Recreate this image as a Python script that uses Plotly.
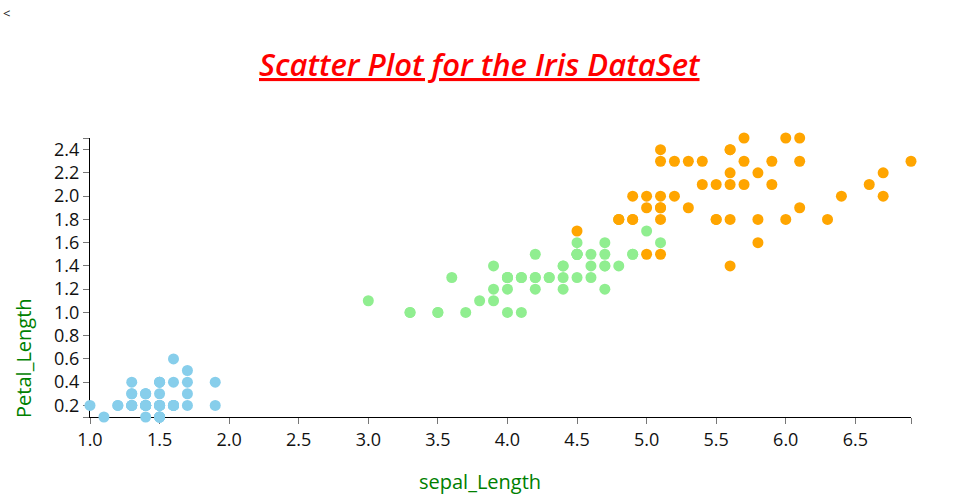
import plotly.graph_objects as go

# Iris petal measurements (x: petal length, y: petal width) per species
setosa_x = [1.4,1.4,1.3,1.5,1.4,1.7,1.4,1.5,1.4,1.5,1.5,1.6,1.4,1.1,1.2,1.5,1.3,1.4,1.7,1.5,
            1.7,1.5,1.0,1.7,1.9,1.6,1.6,1.5,1.4,1.6,1.6,1.5,1.5,1.4,1.5,1.2,1.3,1.5,1.3,1.5,
            1.3,1.3,1.3,1.6,1.9,1.4,1.6,1.4,1.5,1.4]
setosa_y = [0.2,0.2,0.2,0.2,0.2,0.4,0.3,0.2,0.2,0.1,0.2,0.2,0.1,0.1,0.2,0.4,0.4,0.3,0.3,0.3,
            0.2,0.4,0.2,0.5,0.2,0.2,0.4,0.2,0.2,0.2,0.2,0.4,0.1,0.2,0.1,0.2,0.2,0.1,0.2,0.2,
            0.3,0.3,0.2,0.6,0.4,0.3,0.2,0.2,0.2,0.2]
versicolor_x = [4.7,4.5,4.9,4.0,4.6,4.5,4.7,3.3,4.6,3.9,3.5,4.2,4.0,4.7,3.6,4.4,4.5,4.1,4.5,3.9,
                4.8,4.0,4.9,4.7,4.3,4.4,4.8,5.0,4.5,3.5,3.8,3.7,3.9,5.1,4.5,4.5,4.7,4.4,4.1,4.0,
                4.4,4.6,4.0,3.3,4.2,4.2,4.2,4.3,3.0,4.1]
versicolor_y = [1.4,1.5,1.5,1.3,1.5,1.3,1.6,1.0,1.3,1.4,1.0,1.5,1.0,1.4,1.3,1.4,1.5,1.0,1.5,1.1,
                1.8,1.3,1.5,1.2,1.3,1.4,1.4,1.7,1.5,1.0,1.1,1.0,1.2,1.6,1.5,1.6,1.5,1.3,1.3,1.3,
                1.2,1.4,1.2,1.0,1.3,1.2,1.3,1.3,1.1,1.3]
virginica_x = [6.0,5.1,5.9,5.6,5.8,6.6,4.5,6.3,5.8,6.1,5.1,5.3,5.5,5.0,5.1,5.3,5.5,6.7,6.9,5.0,
               5.7,4.9,6.7,4.9,5.7,6.0,4.8,4.9,5.6,5.8,6.1,6.4,5.6,5.1,5.6,6.1,5.6,5.5,4.8,5.4,
               5.6,5.1,5.1,5.9,5.7,5.2,5.0,5.2,5.4,5.1]
virginica_y = [2.5,1.9,2.1,1.8,2.2,2.1,1.7,1.8,1.8,2.5,2.0,1.9,2.1,2.0,2.4,2.3,1.8,2.2,2.3,1.5,
               2.3,2.0,2.0,1.8,2.1,1.8,1.8,1.8,2.1,1.6,1.9,2.0,2.2,1.5,1.4,2.3,2.4,1.8,1.8,2.1,
               2.4,2.3,1.9,2.3,2.5,2.3,1.9,2.0,2.3,1.8]

series = [("setosa", setosa_x, setosa_y, "#87CEEB"),
          ("versicolor", versicolor_x, versicolor_y, "#90EE90"),
          ("virginica", virginica_x, virginica_y, "#FFA500")]

x_tickvals = [1.0, 1.5, 2.0, 2.5, 3.0, 3.5, 4.0, 4.5, 5.0, 5.5, 6.0, 6.5, 6.9]
x_ticktext = ["1.0", "1.5", "2.0", "2.5", "3.0", "3.5", "4.0", "4.5", "5.0", "5.5", "6.0", "6.5", ""]
y_tickvals = [0.1, 0.2, 0.4, 0.6, 0.8, 1.0, 1.2, 1.4, 1.6, 1.8, 2.0, 2.2, 2.4, 2.5]
y_ticktext = ["", "0.2", "0.4", "0.6", "0.8", "1.0", "1.2", "1.4", "1.6", "1.8", "2.0", "2.2", "2.4", ""]

fig = go.Figure()
for name, xs, ys, col in series:
    fig.add_trace(go.Scatter(x=xs, y=ys, mode="markers", name=name, cliponaxis=False,
                             marker=dict(size=11, color=col, line=dict(width=0))))

W, H = 960, 500
L, T = 90, 137.5
R = W - 911
B = H - 416.6
pw, ph = W - L - R, H - T - B


def px(xp):
    return (xp - L) / pw


def py(yp):
    return (H - B - yp) / ph


tickfont = dict(family="Open Sans", size=18, color="#111")
fig.update_layout(
    width=W, height=H, autosize=False,
    margin=dict(l=L, r=R, t=T, b=B, pad=0),
    plot_bgcolor="white", paper_bgcolor="white",
    showlegend=False,
    xaxis=dict(range=[1.0, 6.9], tickmode="array", tickvals=x_tickvals, ticktext=x_ticktext,
               showgrid=False, zeroline=False, showline=True, linecolor="black", linewidth=1,
               ticks="outside", ticklen=6, tickcolor="#777", tickwidth=1,
               tickfont=tickfont, layer="below traces"),
    yaxis=dict(range=[0.1, 2.5], tickmode="array", tickvals=y_tickvals, ticktext=y_ticktext,
               showgrid=False, zeroline=False, showline=True, linecolor="black", linewidth=1,
               ticks="outside", ticklen=6, tickcolor="#777", tickwidth=1,
               tickfont=tickfont, layer="below traces"),
    annotations=[
        dict(text="Scatter Plot for the Iris DataSet", xref="paper", yref="paper",
             x=px(480), y=py(63), xanchor="center", yanchor="middle",
             showarrow=False,
             font=dict(family="Open Sans", size=31, color="red", style="italic",
                       weight=600, lineposition="under")),
        dict(text="sepal_Length", xref="paper", yref="paper",
             x=px(480), y=py(481), xanchor="center", yanchor="middle",
             showarrow=False, font=dict(family="Open Sans", size=20, color="green")),
        dict(text="Petal_Length", xref="paper", yref="paper", textangle=-90,
             x=px(24), y=py(357.5), xanchor="center", yanchor="middle",
             showarrow=False, font=dict(family="Open Sans", size=20, color="green")),
        dict(text="<", xref="paper", yref="paper",
             x=px(6), y=py(12), xanchor="center", yanchor="middle",
             showarrow=False, font=dict(family="Open Sans", size=13, color="#222")),
    ],
)

fig.write_html("out.html", config={"displayModeBar": False},
               post_script="document.body.style.margin='0';document.body.style.overflow='hidden';")
